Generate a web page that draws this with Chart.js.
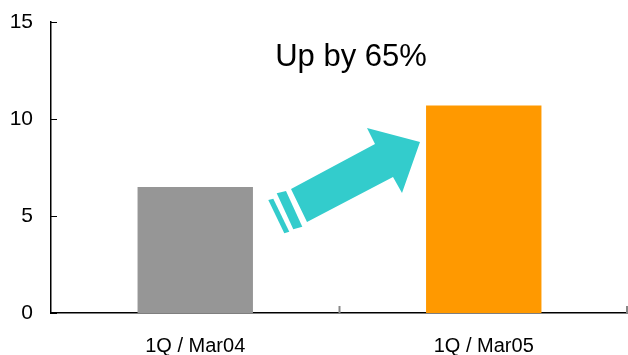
<!DOCTYPE html>
<html>
<head>
<meta charset="utf-8">
<script src="https://cdn.jsdelivr.net/npm/chart.js@4/dist/chart.umd.min.js"></script>
<style>
  html, body { margin: 0; padding: 0; background: #fff; }
  #wrap { width: 628px; height: 355px; position: relative; }
</style>
</head>
<body>
<div id="wrap"><canvas id="c"></canvas></div>
<script>
// dữ liệu
const categories = ["1Q / Mar04", "1Q / Mar05"];
const values = [6.5, 10.7];
const barColors = ["#969696", "#FF9900"];
const yTicks = [0, 5, 10, 15];
const headline = "Up by 65%";

// vẽ tick hướng vào trong + mũi tên + tiêu đề
const decorPlugin = {
  id: "decor",
  afterDraw(chart) {
    const ctx = chart.ctx;
    const y = chart.scales.y;
    const x = chart.scales.x;
    const area = chart.chartArea;
    ctx.save();
    ctx.strokeStyle = "#000";
    ctx.lineWidth = 1;
    yTicks.forEach((v) => {
      const py = Math.round(y.getPixelForValue(v)) + 0.5;
      ctx.beginPath();
      ctx.moveTo(area.left, py);
      ctx.lineTo(area.left + 6, py);
      ctx.stroke();
    });
    ctx.strokeStyle = "#888";
    ctx.lineWidth = 2;
    for (let i = 1; i <= categories.length; i++) {
      const px = i < categories.length
        ? (x.getPixelForValue(i - 1) + x.getPixelForValue(i)) / 2
        : area.right - 1;
      ctx.beginPath();
      ctx.moveTo(px, area.bottom);
      ctx.lineTo(px, area.bottom - 7);
      ctx.stroke();
    }

    // mũi tên
    ctx.fillStyle = "#33CCCC";
    const poly = (pts) => {
      ctx.beginPath();
      ctx.moveTo(pts[0][0], pts[0][1]);
      pts.slice(1).forEach((p) => ctx.lineTo(p[0], p[1]));
      ctx.closePath();
      ctx.fill();
    };
    poly([[291, 189], [375, 144], [367, 128], [420, 142], [402, 193], [393, 177], [307, 222]]);
    poly([[276.7, 193.3], [286, 191], [302.3, 226.7], [293.3, 229.3]]);
    poly([[268.3, 200], [273.3, 198.7], [289.3, 231.7], [284.3, 233.3]]);

    // tiêu đề
    ctx.fillStyle = "#000";
    ctx.font = "31px Arial, 'Liberation Sans', sans-serif";
    ctx.textAlign = "center";
    ctx.textBaseline = "alphabetic";
    ctx.fillText(headline, 351, 66);
    ctx.restore();
  },
};

new Chart(document.getElementById("c"), {
  type: "bar",
  data: {
    labels: categories,
    datasets: [
      {
        data: values,
        backgroundColor: barColors,
        barPercentage: 0.4,
        categoryPercentage: 1,
      },
    ],
  },
  options: {
    responsive: true,
    maintainAspectRatio: false,
    animation: false,
    layout: { padding: { top: 22, right: 0, left: 0, bottom: 0 } },
    plugins: {
      legend: { display: false },
      tooltip: { enabled: false },
    },
    scales: {
      x: {
        grid: { display: false, drawTicks: false },
        border: { display: true, color: "#000", width: 1.5 },
        ticks: {
          color: "#000",
          padding: 21,
          font: { family: "Arial, 'Liberation Sans', sans-serif", size: 20 },
        },
        afterFit(scale) {
          scale.height = 42;
          scale.paddingLeft = 0;
          scale.paddingRight = 0;
        },
      },
      y: {
        min: 0,
        max: 15,
        afterBuildTicks(scale) {
          scale.ticks = yTicks.map((v) => ({ value: v }));
        },
        grid: { display: false, drawTicks: false },
        border: { display: true, color: "#000", width: 1.5 },
        ticks: {
          color: "#000",
          padding: 18,
          font: { family: "Arial, 'Liberation Sans', sans-serif", size: 21 },
        },
        afterFit(scale) {
          scale.width = 51;
          scale.paddingTop = 0;
          scale.paddingBottom = 0;
        },
      },
    },
  },
  plugins: [decorPlugin],
});
</script>
</body>
</html>
